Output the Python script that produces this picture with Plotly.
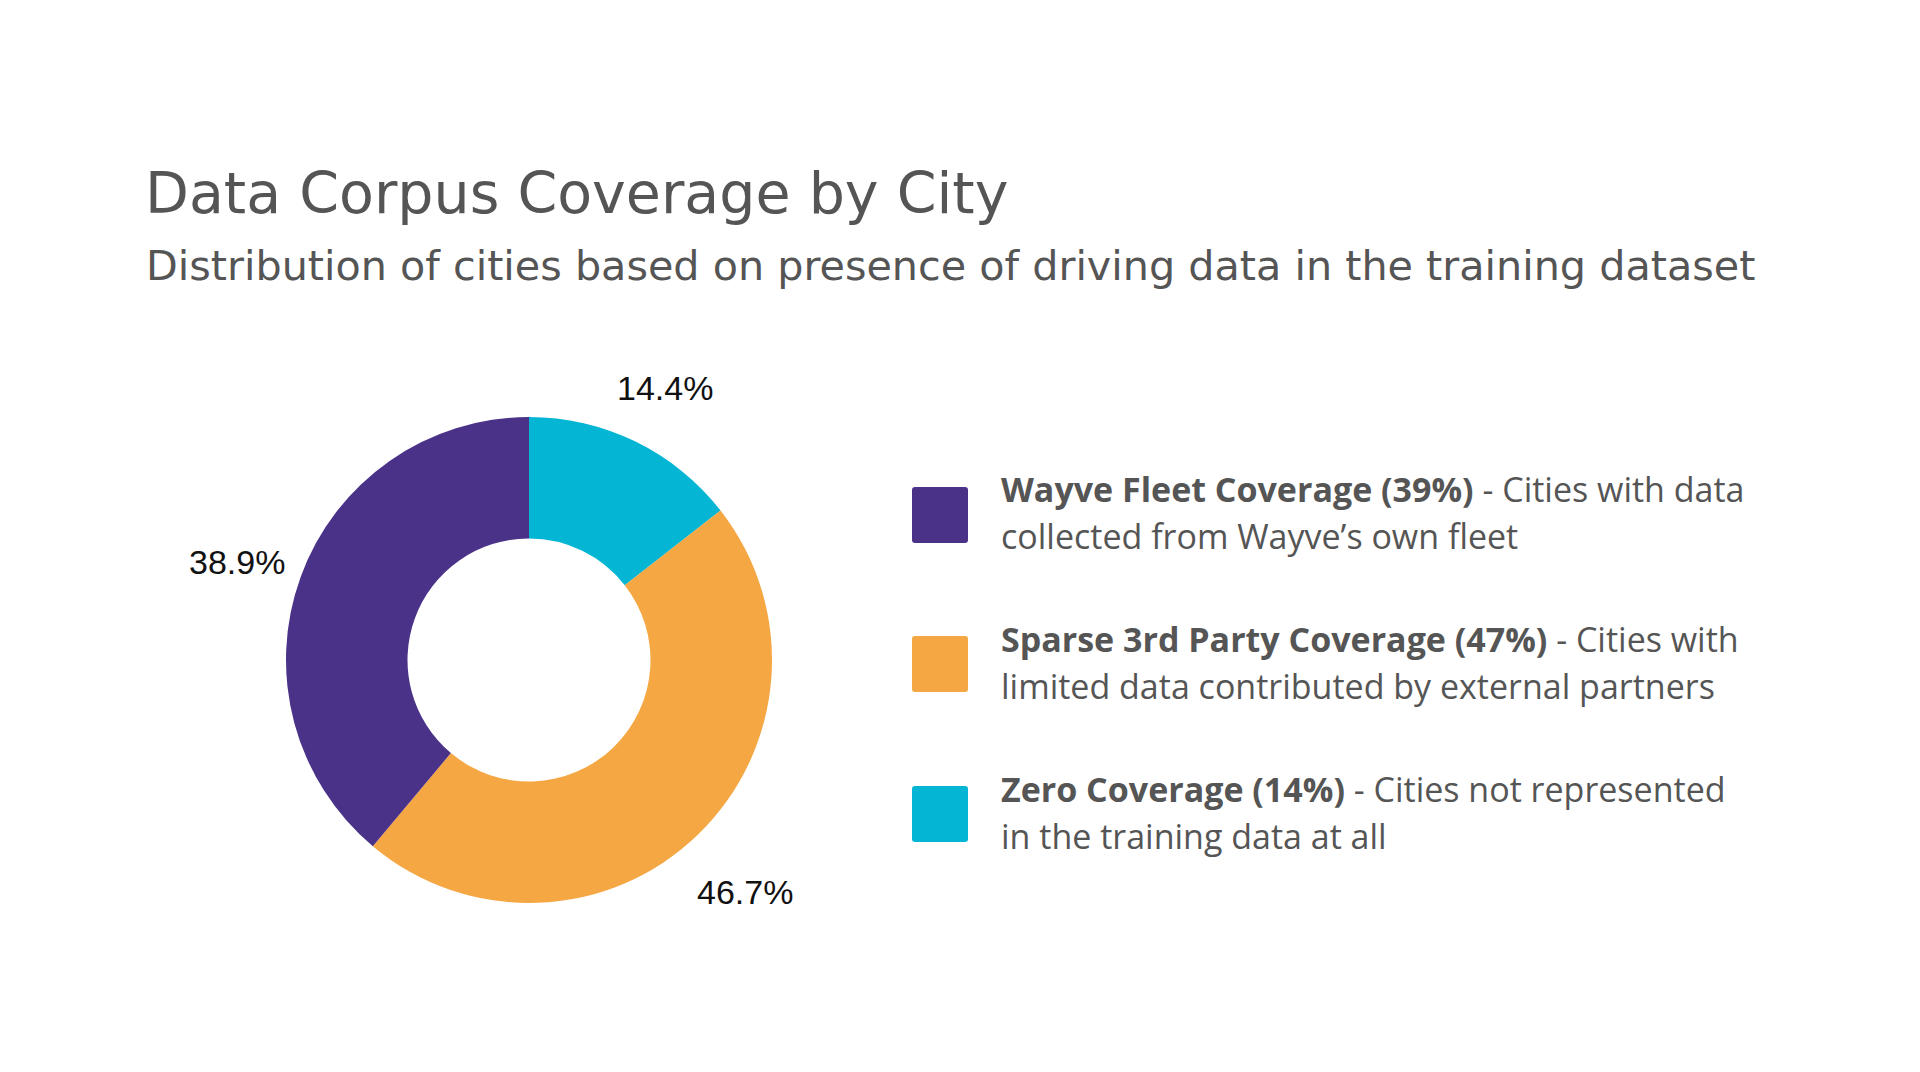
import math
import plotly.graph_objects as go

# ---- data (legend order) ----
categories = ["Wayve Fleet Coverage", "Sparse 3rd Party Coverage", "Zero Coverage"]
city_counts = [35, 42, 13]
colors = ["#4B3289", "#F4A742", "#04B6D3"]
legend_bold = ["Wayve Fleet Coverage (39%)", "Sparse 3rd Party Coverage (47%)", "Zero Coverage (14%)"]
legend_line1 = [" - Cities with data", " - Cities with", " - Cities not represented"]
legend_line2 = ["collected from Wayve\u2019s own fleet", "limited data contributed by external partners",
                "in the training data at all"]
title_text = "Data Corpus Coverage by City"
subtitle_text = "Distribution of cities based on presence of driving data in the training dataset"

# page body has an 8px default margin
OFF = 8
W, H = 1920 - 2 * OFF, 1072 - 2 * OFF
TEXT = "#555555"


def px(x):
    return (x - OFF) / W


def py(y):
    return 1 - (y - OFF) / H


cx, cy, r = 529, 660, 243

# pie drawn clockwise from 12 o'clock, Zero first
pie_labels = categories[::-1]
pie_values = city_counts[::-1]
pie_colors = colors[::-1]

fig = go.Figure()
fig.add_trace(go.Pie(
    labels=pie_labels,
    values=pie_values,
    marker=dict(colors=pie_colors, line=dict(width=0)),
    hole=0.5,
    sort=False,
    direction="clockwise",
    textinfo="none",
    showlegend=False,
    domain=dict(x=[px(cx - r), px(cx + r)], y=[py(cy + r), py(cy - r)]),
    hoverinfo="label+percent+value",
))

annotations = []
shapes = []

# percentage labels outside each slice, derived from the values
total = sum(pie_values)
cum = 0
LABEL_K = 1.28
LABEL_DY = 8
for v in pie_values:
    mid = (cum + v / 2) / total * 2 * math.pi
    cum += v
    lx = cx + LABEL_K * r * math.sin(mid)
    ly = cy - LABEL_K * r * math.cos(mid) + LABEL_DY
    annotations.append(dict(text=f"{v / total * 100:.1f}%", x=px(lx), y=py(ly),
                            xref="paper", yref="paper", xanchor="center", yanchor="middle",
                            showarrow=False,
                            font=dict(family="Liberation Sans, Arial, sans-serif", size=34, color="#111111")))

# DejaVu: baseline ~ center + 0.346*fs
annotations.append(dict(text=title_text, x=px(143), y=py(213 - 0.346 * 57), xref="paper", yref="paper",
                        xanchor="left", yanchor="middle", showarrow=False,
                        font=dict(family="DejaVu Sans, sans-serif", size=57, color=TEXT)))
annotations.append(dict(text=subtitle_text, x=px(144), y=py(280 - 0.346 * 41.3), xref="paper", yref="paper",
                        xanchor="left", yanchor="middle", showarrow=False,
                        font=dict(family="DejaVu Sans, sans-serif", size=41.3, color=TEXT)))

LFS = 34
sq_top = [487, 636, 786]
base1 = [502, 652, 802]
gap = 47
for i in range(len(categories)):
    x0, x1 = 912, 968
    y0, y1 = sq_top[i], sq_top[i] + 56
    rr = 3
    path = (f"M {px(x0 + rr)},{py(y0)} L {px(x1 - rr)},{py(y0)} Q {px(x1)},{py(y0)} {px(x1)},{py(y0 + rr)} "
            f"L {px(x1)},{py(y1 - rr)} Q {px(x1)},{py(y1)} {px(x1 - rr)},{py(y1)} "
            f"L {px(x0 + rr)},{py(y1)} Q {px(x0)},{py(y1)} {px(x0)},{py(y1 - rr)} "
            f"L {px(x0)},{py(y0 + rr)} Q {px(x0)},{py(y0)} {px(x0 + rr)},{py(y0)} Z")
    shapes.append(dict(type="path", path=path, xref="paper", yref="paper",
                       fillcolor=colors[i], line=dict(width=0)))
    for k, txt in enumerate([f"<b>{legend_bold[i]}</b>{legend_line1[i]}", legend_line2[i]]):
        annotations.append(dict(text=txt,
                                x=px(999), y=py(base1[i] + k * gap - 0.388 * LFS),
                                xref="paper", yref="paper",
                                xanchor="left", yanchor="middle", showarrow=False,
                                font=dict(family="Open Sans, sans-serif", size=LFS, color=TEXT)))

fig.update_layout(
    width=W, height=H,
    margin=dict(l=0, r=0, t=0, b=0),
    paper_bgcolor="white", plot_bgcolor="white",
    annotations=annotations, shapes=shapes,
)
fig.write_html("out.html")
